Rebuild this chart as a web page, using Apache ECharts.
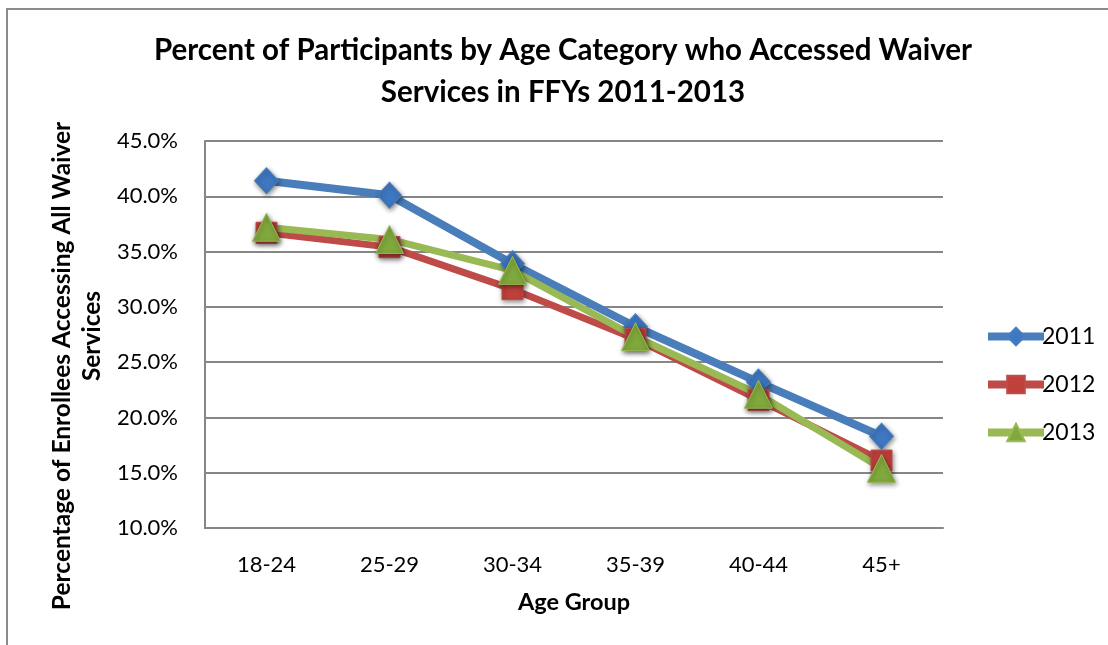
<!DOCTYPE html>
<html>
<head>
<meta charset="utf-8">
<script src="https://cdn.jsdelivr.net/npm/echarts@6/dist/echarts.min.js"></script>
<style>
  html, body { margin: 0; padding: 0; background: #fff; }
  #chart { width: 1108px; height: 645px; }
</style>
</head>
<body>
<div id="chart"></div>
<script>
// categories and values (percent)
const ageGroups = ['18-24', '25-29', '30-34', '35-39', '40-44', '45+'];
const y2011 = [41.4, 40.1, 33.9, 28.2, 23.2, 18.3];
const y2012 = [36.7, 35.4, 31.6, 27.1, 21.6, 16.1];
const y2013 = [37.2, 36.1, 33.3, 27.3, 22.1, 15.4];
const yTicks = {min: 10, max: 45, step: 5};

const FONT = 'Lato, "Open Sans", sans-serif';
const markerShadow = {shadowBlur: 5, shadowColor: 'rgba(0,0,0,0.45)', shadowOffsetX: 1, shadowOffsetY: 2};

const chart = echarts.init(document.getElementById('chart'), null, {renderer: 'canvas'});

const mkSeries = (name, data, color, marker, symbol, size, width) => ({
	name: name,
	type: 'line',
	data: data,
	symbol: symbol,
	symbolSize: size,
	showAllSymbol: true,
	lineStyle: {color: color, width: width},
	itemStyle: Object.assign({color: marker, borderColor: color, borderWidth: 1}, markerShadow),
	emphasis: {disabled: true},
	animation: false
});

const option = {
	backgroundColor: '#fff',
	textStyle: {fontFamily: FONT},
	grid: {left: 205, right: 165, top: 141, bottom: 117, containLabel: false},
	graphic: [
		// outer chart frame (only top and left visible)
		{type: 'rect', shape: {x: 7, y: 9, width: 1300, height: 900},
			style: {fill: 'none', stroke: '#8c8c8c', lineWidth: 2}, silent: true},
		{type: 'text', x: 563, y: 50, style: {text: 'Percent of Participants by Age Category who Accessed Waiver',
			font: 'bold 29.5px ' + FONT, fill: '#000', textAlign: 'center', textVerticalAlign: 'middle'}},
		{type: 'text', x: 563, y: 92, style: {text: 'Services in FFYs 2011-2013',
			font: 'bold 29.5px ' + FONT, fill: '#000', textAlign: 'center', textVerticalAlign: 'middle'}},
		{type: 'text', x: 62, y: 366, rotation: Math.PI / 2, style: {text: 'Percentage of Enrollees Accessing All Waiver',
			font: 'bold 24.5px ' + FONT, fill: '#000', textAlign: 'center', textVerticalAlign: 'middle'}},
		{type: 'text', x: 92, y: 336, rotation: Math.PI / 2, style: {text: 'Services',
			font: 'bold 24.5px ' + FONT, fill: '#000', textAlign: 'center', textVerticalAlign: 'middle'}}
	],
	legend: {
		orient: 'vertical',
		left: 979,
		top: 320,
		itemWidth: 56,
		itemHeight: 22,
		itemGap: 25,
		lineStyle: {width: 8},
		textStyle: {fontSize: 23, color: '#000', fontFamily: FONT, padding: [0, 0, 0, -7]},
		data: ['2011', '2012', '2013']
	},
	xAxis: {
		type: 'category',
		data: ageGroups,
		name: 'Age Group',
		nameLocation: 'middle',
		nameGap: 62,
		nameTextStyle: {fontSize: 23.5, fontWeight: 'bold', color: '#000', fontFamily: FONT},
		axisLine: {lineStyle: {color: '#868686', width: 2}},
		axisTick: {show: false},
		axisLabel: {fontSize: 22, color: '#000', margin: 26},
		splitLine: {show: false}
	},
	yAxis: {
		type: 'value',
		min: yTicks.min,
		max: yTicks.max,
		interval: yTicks.step,
		axisLine: {show: true, lineStyle: {color: '#868686', width: 2}},
		axisTick: {show: false},
		axisLabel: {fontSize: 22, color: '#000', margin: 27, formatter: v => v.toFixed(1) + '%'},
		splitLine: {lineStyle: {color: '#868686', width: 2}}
	},
	series: [
		mkSeries('2011', y2011, '#4a7ebb', '#3f78c2', 'diamond', [24, 26], 8),
		mkSeries('2012', y2012, '#be4b48', '#c0403c', 'rect', [21, 21], 7),
		mkSeries('2013', y2013, '#98b954', '#80a83c', 'triangle', [28, 28], 7)
	]
};

chart.setOption(option);
</script>
</body>
</html>
